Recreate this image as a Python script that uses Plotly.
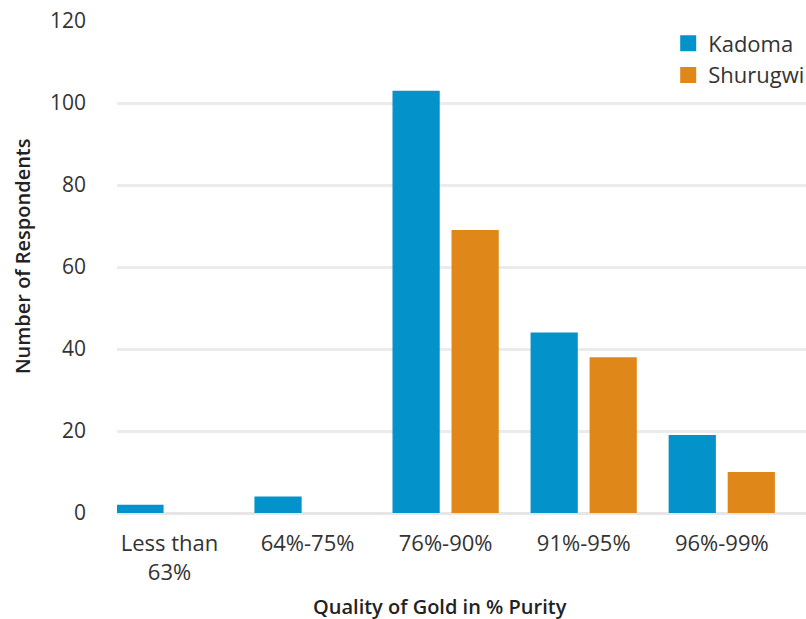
import plotly.graph_objects as go

categories = ["Less than<br>63%", "64%-75%", "76%-90%", "91%-95%", "96%-99%"]
kadoma = [2, 4, 103, 44, 19]
shurugwi = [0, 0, 69, 38, 10]
y_ticks = [0, 20, 40, 60, 80, 100, 120]

BLUE = "#0392c9"
ORANGE = "#e0871a"
FONT = "Open Sans"
TEXT = "#333333"
TITLE = "#222222"

fig = go.Figure()
for name, values, color in [("Kadoma", kadoma, BLUE), ("Shurugwi", shurugwi, ORANGE)]:
    fig.add_trace(go.Bar(name=name, x=categories, y=values, showlegend=False,
                         marker=dict(color=color, line=dict(width=0))))
# legend entries with larger square swatches
for name, color in [("Kadoma", BLUE), ("Shurugwi", ORANGE)]:
    fig.add_trace(go.Scatter(name=name, x=[None], y=[None], mode="markers",
                             marker=dict(symbol="square", size=16, color=color)))

# axis titles placed as annotations so they can sit slightly off-centre
fig.add_annotation(text="Quality of Gold in % Purity", xref="paper", yref="paper",
                   x=0.469, y=-0.19, xanchor="center", yanchor="middle", showarrow=False,
                   font=dict(size=20, color=TITLE, weight=600))
fig.add_annotation(text="Number of Respondents", xref="paper", yref="paper",
                   x=-0.138, y=0.522, xanchor="center", yanchor="middle", showarrow=False,
                   textangle=-90, font=dict(size=20, color=TITLE, weight=600))

fig.update_layout(
    width=806, height=619,
    margin=dict(l=117, r=0, t=21, b=106, autoexpand=False),
    paper_bgcolor="white", plot_bgcolor="white",
    barmode="group", bargap=0.145, bargroupgap=0.2,
    font=dict(family=FONT, color=TEXT, size=22),
    legend=dict(x=0.80, y=0.997, xanchor="left", yanchor="top",
                font=dict(size=22, color=TEXT), bgcolor="rgba(0,0,0,0)",
                itemsizing="trace", tracegroupgap=0, itemwidth=30),
    xaxis=dict(range=[-0.38, 4.61], showgrid=False, showline=False, ticks="",
               ticklabelstandoff=15, tickfont=dict(size=22, color=TEXT)),
    yaxis=dict(range=[0, 120], tickvals=y_ticks, showgrid=True, gridcolor="#ebebeb", gridwidth=2.5,
               zeroline=True, zerolinecolor="#e6e6e6", zerolinewidth=2.5,
               ticks="", ticklabelstandoff=30, tickfont=dict(size=21, color=TEXT)),
)

fig.write_html("out.html")
